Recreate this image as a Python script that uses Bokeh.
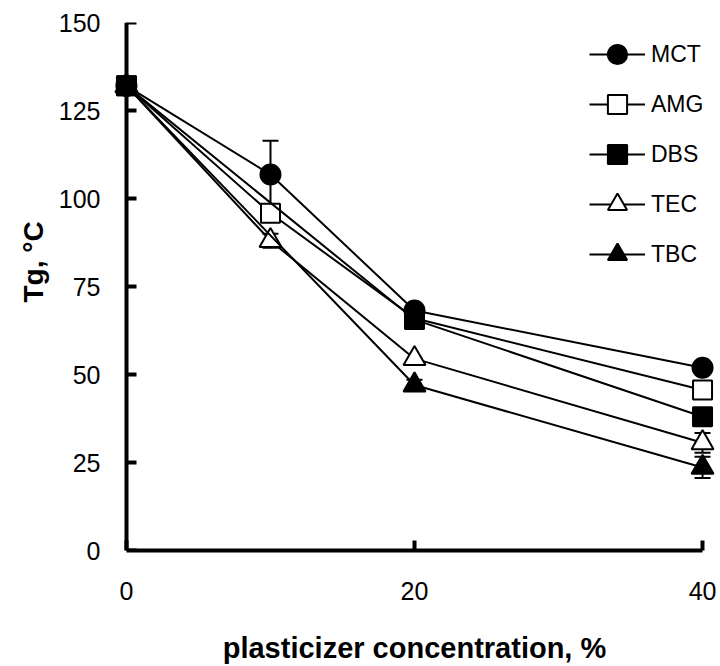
from bokeh.plotting import figure
from bokeh.models import (Range1d, Legend, LegendItem, Whisker, ColumnDataSource,
                          FixedTicker, TeeHead, LinearAxis, Title)
from bokeh.embed import file_html
from bokeh.resources import INLINE

# ---- data -------------------------------------------------------------
concentration = [0, 10, 20, 40]
# the original axis spaces 0 - 20 - 40 evenly (10 sits half way to 20)
axis_position = {0: 0, 10: 0.5, 20: 1, 40: 2}
x_tick_values = [0, 20, 40]
y_tick_values = [0, 25, 50, 75, 100, 125, 150]

mct = [132, 106.8, 68.2, 51.9]
mct_err = [0, 9.6, 0, 0]
amg = [132, 95.8, 66.0, 45.6]
amg_err = [0, 0, 0, 0]
dbs = [132, None, 65.6, 38.0]
dbs_err = [0, 0, 0, 0]
tec = [132, 88.0, 54.5, 30.6]
tec_err = [0, 2.0, 0, 2.8]
tbc = [132, None, 47.0, 23.6]
tbc_err = [0, 0, 1.5, 3.0]

series = [
    ("MCT", mct, mct_err, "circle", "black", 20),
    ("AMG", amg, amg_err, "square", "white", 19),
    ("TEC", tec, tec_err, "triangle", "white", 22),
    ("DBS", dbs, dbs_err, "square", "black", 19),
    ("TBC", tbc, tbc_err, "triangle", "black", 22),
]
legend_order = ["MCT", "AMG", "DBS", "TEC", "TBC"]

FONT = "Liberation Sans"

p = figure(width=720, height=666, output_backend="svg", toolbar_location=None,
           x_range=Range1d(-0.045, 2.045), y_range=Range1d(0, 150),
           min_border_left=113, min_border_right=5, min_border_top=22, min_border_bottom=116)
p.outline_line_color = None
p.grid.visible = False
p.background_fill_color = "white"
p.border_fill_color = "white"

items = {}
for name, vals, errs, marker, fill, size in series:
    xs = [axis_position[c] for c, v in zip(concentration, vals) if v is not None]
    ys = [v for v in vals if v is not None]
    es = [e for e, v in zip(errs, vals) if v is not None]
    src = ColumnDataSource(dict(x=xs, y=ys))
    wsrc = ColumnDataSource(dict(x=[x for x, e in zip(xs, es) if e > 0],
                                 lo=[y - e for y, e in zip(ys, es) if e > 0],
                                 hi=[y + e for y, e in zip(ys, es) if e > 0]))
    w = Whisker(source=wsrc, base="x", lower="lo", upper="hi", dimension="height",
                line_color="black", line_width=2, level="underlay",
                upper_head=TeeHead(size=16, line_width=2, line_color="black"),
                lower_head=TeeHead(size=16, line_width=2, line_color="black"))
    p.add_layout(w)
    lr = p.line("x", "y", source=src, line_color="black", line_width=2)
    sr = p.scatter("x", "y", source=src, marker=marker, size=size,
                   fill_color=fill, line_color="black", line_width=2)
    items[name] = LegendItem(label=name, renderers=[lr, sr])

legend = Legend(items=[items[n] for n in legend_order], location=(470, 266),
                glyph_width=56, glyph_height=48, label_standoff=6, spacing=2,
                padding=6, margin=0, border_line_alpha=0, background_fill_alpha=0,
                label_text_font=FONT, label_text_font_size="23px", label_text_color="black")
p.add_layout(legend)

# ---- x axis ------------------------------------------------------------
xa = p.xaxis[0]
xa.ticker = FixedTicker(ticks=[axis_position[c] for c in x_tick_values])
xa.major_label_overrides = {axis_position[c]: str(c) for c in x_tick_values}
xa.bounds = (axis_position[concentration[0]], axis_position[concentration[-1]])
xa.axis_line_width = 4
xa.axis_line_color = "black"
xa.major_tick_in = 10
xa.major_tick_out = 0
xa.major_tick_line_width = 4
xa.minor_tick_line_color = None
xa.major_label_text_font = FONT
xa.major_label_text_font_size = "25px"
xa.major_label_text_color = "black"
xa.major_label_standoff = 31
xa.axis_label = "plasticizer concentration, %"
xa.axis_label_text_font = FONT
xa.axis_label_text_font_style = "bold"
xa.axis_label_text_font_size = "29px"
xa.axis_label_text_color = "black"
xa.axis_label_standoff = 29

# ---- y axis: tick labels (at the frame's left edge) ---------------------
ya = p.yaxis[0]
ya.ticker = FixedTicker(ticks=y_tick_values)
ya.axis_line_color = None
ya.major_tick_line_color = None
ya.minor_tick_line_color = None
ya.major_tick_in = 0
ya.major_tick_out = 0
ya.major_label_text_font = FONT
ya.major_label_text_font_size = "25px"
ya.major_label_text_color = "black"
ya.major_label_standoff = 13

# y axis title
p.add_layout(Title(text="Tg, °C", align="left", offset=248, standoff=14,
                   text_font=FONT, text_font_style="bold", text_font_size="28px",
                   text_color="black"), "left")

# y axis line and (label-less) tick marks, crossing at concentration 0
yline = LinearAxis(ticker=FixedTicker(ticks=[], minor_ticks=y_tick_values),
                   fixed_location=axis_position[concentration[0]],
                   bounds=(y_tick_values[0], y_tick_values[-1]),
                   axis_line_width=4, axis_line_color="black",
                   major_tick_line_color=None, major_tick_in=0, major_tick_out=0,
                   minor_tick_in=10, minor_tick_out=0, minor_tick_line_width=4,
                   minor_tick_line_color="black")
p.add_layout(yline, "left")

open("out.html", "w").write(file_html(p, INLINE))
